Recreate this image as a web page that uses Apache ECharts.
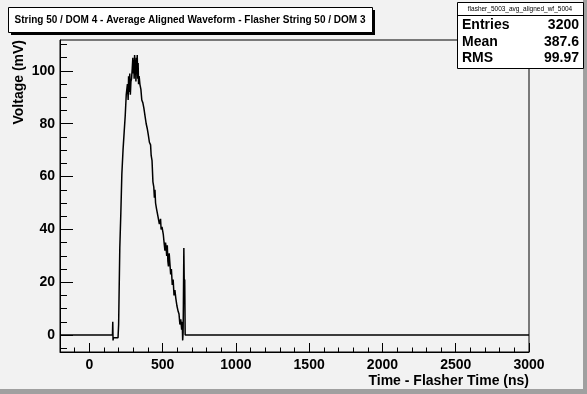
<!DOCTYPE html>
<html><head><meta charset="utf-8">
<script src="https://cdn.jsdelivr.net/npm/echarts@6/dist/echarts.min.js"></script>
<style>html,body{margin:0;padding:0;background:#f2f2f2}#c{width:587px;height:394px}</style>
</head><body><div id="c"></div>
<script>
// ---- data ----
const times = [-200,158,160,162,164,196,200,203,208,215,222,230,238,245,252,260,265,268,272,276,280,284,288,293,297,300,303,306,309,312,315,318,321,324,327,330,333,336,340,345,352,358,365,372,380,388,396,402,410,418,422,428,434,440,444,448,452,458,468,478,486,490,496,505,512,516,520,524,528,532,536,540,545,550,555,560,566,572,578,584,590,598,606,612,618,624,630,634,637,640,642,645,648,651,654,3000];
const volts = [0,0,5,-2,-1,-1,4,15,33,46,61,70,77,83,91,95,89,98,92,99,91,96,97,101,105,99,104,97,106,101,104,96,105,99,106,97,103,95,98,95,93,89,88,86,83,80,78,76,73,72,68,66,58,56,52,55,50,48,45,42,44,40,41,38,34,32,35,33,30,34,28,26,31,27,23,25,19,21,15,17,14,11,9,8,4,6,2,5,-2,1,12,33,18,21,0,0];
const xMajorTicks = [0,500,1000,1500,2000,2500,3000];
const yMajorTicks = [0,20,40,60,80,100];
const titleText = 'String 50 / DOM 4 - Average Aligned Waveform - Flasher String 50 / DOM 3';
const statsHeader = 'flasher_5003_avg_aligned_wf_5004';
const statsNames = ['Entries','Mean','RMS'];
const statsValues = ['3200','387.6','99.97'];
const xTitle = 'Time - Flasher Time (ns)';
const yTitle = 'Voltage (mV)';

const xMinorTicks = []; for (let v = -200; v <= 3000; v += 100) xMinorTicks.push(v);
const yMinorTicks = []; for (let v = -5; v <= 110; v += 5) yMinorTicks.push(v);

const FONT = '"Liberation Sans", Arial, Helvetica, sans-serif';
const X_MIN = -200, X_MAX = 3000, Y_MIN = -6.4, Y_MAX = 111.7;

const chart = echarts.init(document.getElementById('c'), null, {renderer: 'canvas'});

const xBase = {type: 'value', min: X_MIN, max: X_MAX, position: 'bottom', splitLine: {show: false}};
const yBase = {type: 'value', min: Y_MIN, max: Y_MAX, position: 'left', splitLine: {show: false}};
const plain = v => String(v);

const statsGraphics = [];
const SB = {x: 457, y: 2, w: 126, h: 66};
statsGraphics.push({type: 'rect', shape: {x: SB.x + 0.5, y: SB.y + 0.5, width: SB.w, height: SB.h}, style: {fill: '#fff', stroke: '#000', lineWidth: 1}, z: 100});
statsGraphics.push({type: 'line', shape: {x1: SB.x, y1: 15.5, x2: SB.x + SB.w, y2: 15.5}, style: {stroke: '#000', lineWidth: 1}, z: 101});
statsGraphics.push({type: 'text', x: SB.x + SB.w / 2, y: 9, style: {text: statsHeader, font: '6.5px ' + FONT, fill: '#000', align: 'center', verticalAlign: 'middle'}, z: 101});
statsNames.forEach((n, i) => {
  const yy = 25.5 + i * 16.5;
  statsGraphics.push({type: 'text', x: 462, y: yy, style: {text: n, font: 'bold 14px ' + FONT, fill: '#000', align: 'left', verticalAlign: 'middle'}, z: 101});
  statsGraphics.push({type: 'text', x: 579, y: yy, style: {text: statsValues[i], font: 'bold 14px ' + FONT, fill: '#000', align: 'right', verticalAlign: 'middle'}, z: 101});
});

const option = {
  backgroundColor: '#f2f2f2',
  animation: false,
  grid: {left: 60, top: 40, width: 469, height: 312, show: true, borderColor: '#000', borderWidth: 1, backgroundColor: 'transparent'},
  xAxis: [
    Object.assign({}, xBase, {
      axisLine: {show: true, onZero: false, lineStyle: {color: '#000', width: 1}},
      axisTick: {show: true, inside: true, length: 9, customValues: xMajorTicks, lineStyle: {color: '#000', width: 1}},
      axisLabel: {show: true, customValues: xMajorTicks, formatter: plain, margin: 6, color: '#000', fontWeight: 'bold', fontSize: 14, fontFamily: FONT}
    }),
    Object.assign({}, xBase, {
      axisLine: {show: false, onZero: false},
      axisTick: {show: true, inside: true, length: 4.5, customValues: xMinorTicks, lineStyle: {color: '#000', width: 1}},
      axisLabel: {show: false}
    })
  ],
  yAxis: [
    Object.assign({}, yBase, {
      axisLine: {show: true, onZero: false, lineStyle: {color: '#000', width: 1}},
      axisTick: {show: true, inside: true, length: 13, customValues: yMajorTicks, lineStyle: {color: '#000', width: 1}},
      axisLabel: {show: true, customValues: yMajorTicks, formatter: plain, margin: 5, color: '#000', fontWeight: 'bold', fontSize: 14, fontFamily: FONT}
    }),
    Object.assign({}, yBase, {
      axisLine: {show: false, onZero: false},
      axisTick: {show: true, inside: true, length: 7, customValues: yMinorTicks, lineStyle: {color: '#000', width: 1}},
      axisLabel: {show: false}
    })
  ],
  series: [{
    type: 'line',
    xAxisIndex: 0, yAxisIndex: 0,
    step: 'end',
    symbol: 'none',
    data: times.map((t, i) => [t, volts[i]]),
    lineStyle: {color: '#000', width: 1.5},
    z: 5
  }],
  graphic: [
    {type: 'rect', shape: {x: 583, y: 0, width: 4, height: 394}, style: {fill: '#a0a0a0'}, z: 90},
    {type: 'rect', shape: {x: 0, y: 389, width: 587, height: 5}, style: {fill: '#a0a0a0'}, z: 90},
    {type: 'rect', shape: {x: 11, y: 10, width: 364, height: 25}, style: {fill: '#000'}, z: 100},
    {type: 'rect', shape: {x: 8.5, y: 7.5, width: 364, height: 25}, style: {fill: '#fff', stroke: '#000', lineWidth: 1}, z: 101},
    {type: 'text', x: 190, y: 20.5, style: {text: titleText, font: 'bold 10px ' + FONT, fill: '#000', align: 'center', verticalAlign: 'middle'}, z: 102},
    {type: 'text', x: 529, y: 381, style: {text: xTitle, font: 'bold 14px ' + FONT, fill: '#000', align: 'right', verticalAlign: 'middle'}, z: 50},
    {type: 'text', x: 19, y: 40, rotation: Math.PI / 2, style: {text: yTitle, font: 'bold 14px ' + FONT, fill: '#000', align: 'right', verticalAlign: 'middle'}, z: 50}
  ].concat(statsGraphics)
};
chart.setOption(option);
</script>
</body></html>
